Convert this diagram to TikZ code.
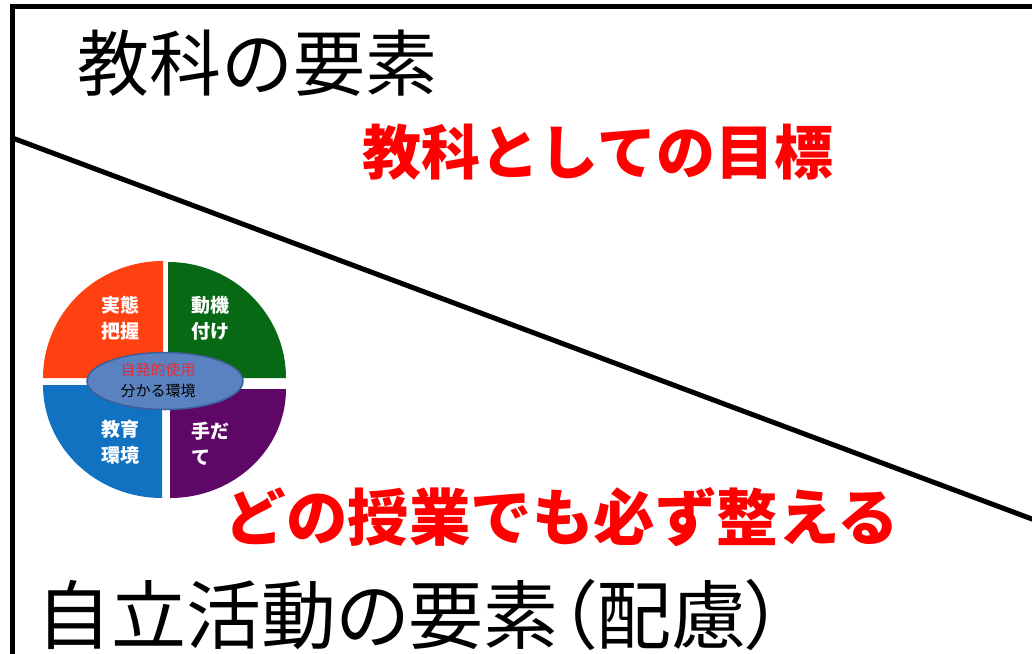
\documentclass[tikz,border=0pt]{standalone}
\usepackage{fontspec}
\usetikzlibrary{shapes.geometric}
\newfontfamily\jp{Noto Sans CJK JP}
\newfontfamily\jpp[RawFeature=+palt]{Noto Sans CJK JP}
\definecolor{qorange}{HTML}{FF4010}
\definecolor{qgreen}{HTML}{086914}
\definecolor{qblue}{HTML}{1072C0}
\definecolor{qpurple}{HTML}{5E0766}
\definecolor{efill}{HTML}{5A82C0}
\definecolor{eline}{HTML}{3A5F9A}
\definecolor{ered}{HTML}{E0303A}
\definecolor{tred}{HTML}{FF0000}
\tikzset{
  frame/.style={line width=5pt, black},
  bigtitle/.style={inner sep=0pt, font=\jp\fontsize{72}{72}\selectfont, text=black},
  redtitle/.style={inner sep=0pt, font=\jp\bfseries\fontsize{59}{59}\selectfont, text=tred},
  qlabel/.style={inner sep=0pt, align=left, text=white, font=\jp\bfseries\fontsize{19}{26}\selectfont},
}
\begin{document}
\begin{tikzpicture}[x=1pt,y=-1pt]
\useasboundingbox (0,0) rectangle (1032,653);
\fill[white] (0,0) rectangle (1032,653);
% frame
\coordinate (bl) at (12.5,660);
\coordinate (tl) at (12.5,6);
\coordinate (tr) at (1040,6);
\coordinate (dA) at (12.5,138);
\coordinate (dB) at (1040,522);
\draw[frame] (bl) -- (tl) -- (tr);
\draw[frame] (dA) -- (dB);
% pie quadrants
\fill[qorange] (163,378) -- ++(-120,0) arc[start angle=180,end angle=270,x radius=120,y radius=117] -- cycle;
\fill[qgreen] (168,378) -- ++(0,-116) arc[start angle=270,end angle=360,x radius=118,y radius=116] -- cycle;
\fill[qblue] (162,385) -- ++(-119,0) arc[start angle=180,end angle=90,x radius=119,y radius=113] -- cycle;
\fill[qpurple] (170,389) -- ++(116,0) arc[start angle=0,end angle=90,x radius=116,y radius=109] -- cycle;
% quadrant labels
\node[qlabel] (q1) at (120,318) {実態\\把握};
\node[qlabel] (q2) at (210,318) {動機\\付け};
\node[qlabel] (q3) at (120,442) {教育\\環境};
\node[qlabel] (q4) at (210,444) {手だ\\て};
% centre ellipse
\node[ellipse, minimum width=156pt, minimum height=57pt, fill=efill, draw=eline, line width=1.5pt, inner sep=0pt] (ell) at (165,381) {};
\node[inner sep=0pt, text=ered, font=\jp\fontsize{15}{15}\selectfont] (e1) at (158,370) {自発的使用};
\node[inner sep=0pt, text=black, font=\jp\fontsize{15}{15}\selectfont] (e2) at (158,391) {分かる環境};
% texts
\node[bigtitle] (t1) at (257,63) {教科の要素};
\node[redtitle] (t2) at (598,152) {教科としての目標};
\node[redtitle, font=\jp\bfseries\fontsize{61.5}{61.5}\selectfont] (t3) at (562,517) {どの授業でも必ず整える};
\node[bigtitle, font=\jpp\fontsize{75}{75}\selectfont] (t4) at (410,615) {自立活動の要素（配慮）};
\end{tikzpicture}
\end{document}
